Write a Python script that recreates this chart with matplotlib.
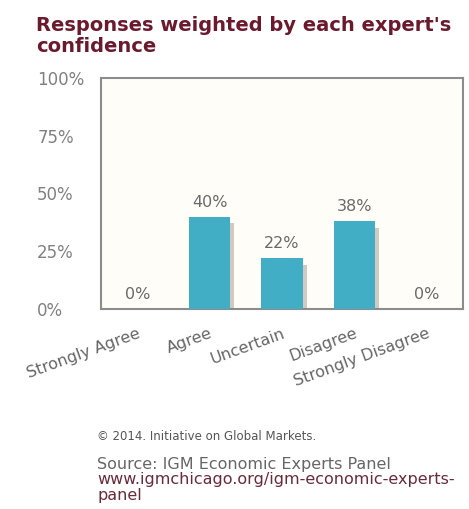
import matplotlib.pyplot as plt
import matplotlib.patheffects as pe

categories = ['Strongly Agree', 'Agree', 'Uncertain', 'Disagree', 'Strongly Disagree']
values = [0, 40, 22, 38, 0]
yticks = [0, 25, 50, 75, 100]

fig = plt.figure(figsize=(4.69, 5.09), dpi=100)
ax = fig.add_axes([0.2154, 0.393, 0.7716, 0.454])
ax.set_facecolor('#fffdf8')

x = range(len(categories))
bars = ax.bar(x, values, width=0.57, color='#41aec5', zorder=3)
for b in bars:
    b.set_path_effects([pe.SimplePatchShadow(offset=(3, -5), shadow_rgbFace='#8a7f74', alpha=0.4),
                        pe.Normal()])

for i, v in enumerate(values):
    ax.text(i, v + 3, f'{v}%', ha='center', va='bottom', fontsize=11.5, color='#6a6a6a')

ax.set_xlim(-0.5, len(categories) - 0.5)
ax.set_ylim(0, 100)
ax.set_yticks(yticks)
ax.set_yticklabels([f'{t}%' for t in yticks], ha='left', fontsize=12, color='#808080')
ax.tick_params(axis='y', length=0, pad=46)
ax.set_xticks(list(x))
ax.set_xticklabels(categories, rotation=20, ha='right', rotation_mode='anchor',
                   fontsize=11.5, color='#666666')
ax.tick_params(axis='x', length=0, pad=12)
for s in ax.spines.values():
    s.set_color('#8c8c8c')
    s.set_linewidth(1.5)

fig.text(0.077, 0.968, "Responses weighted by each expert's\nconfidence", ha='left', va='top',
         fontsize=14, fontweight='bold', color='#6b1a2e', linespacing=1.1)

fig.text(0.207, 0.143, '\u00a9 2014. Initiative on Global Markets.', fontsize=8.5, color='#555555',
         ha='left', va='center')
fig.text(0.207, 0.088, 'Source: IGM Economic Experts Panel', fontsize=11.5, color='#666666',
         ha='left', va='center')
fig.text(0.207, 0.057, 'www.igmchicago.org/igm-economic-experts-', fontsize=11.5, color='#6b2a3a',
         ha='left', va='center')
fig.text(0.207, 0.026, 'panel', fontsize=11.5, color='#6b2a3a', ha='left', va='center')

fig.savefig('out.png', dpi=100, facecolor='white')
